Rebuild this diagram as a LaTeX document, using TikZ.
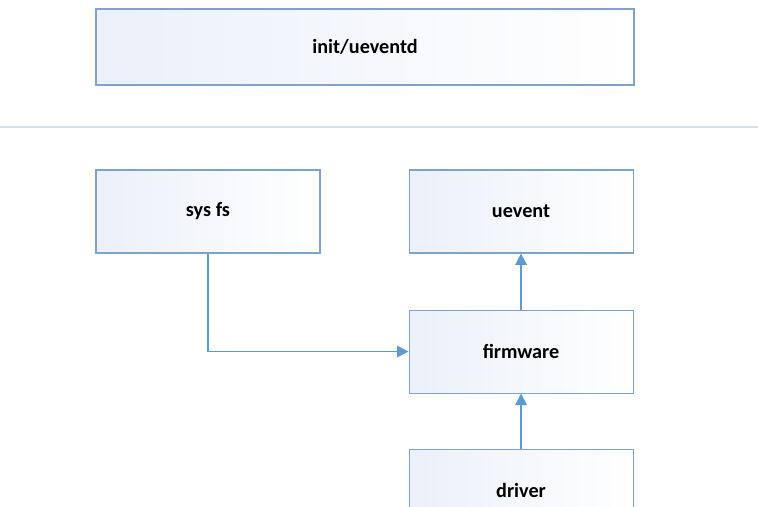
\documentclass[tikz,border=0pt]{standalone}
\usepackage{fontspec}
\setmainfont{Carlito}
\usepackage{tikz}
\usetikzlibrary{arrows.meta, positioning}
\definecolor{boxline}{HTML}{7FA2CC}
\definecolor{boxfill}{HTML}{EBF0F9}
\definecolor{arrline}{HTML}{5B9BD5}
\definecolor{sepline}{HTML}{D6E2EC}

\begin{document}
\begin{tikzpicture}[
  layer/.style={draw=boxline, line width=0.6pt, left color=boxfill, right color=white, minimum width=4.48cm, minimum height=1.66cm, align=center, font=\fontsize{11.5}{14}\selectfont\bfseries},
  arr/.style={-{Triangle[length=6.5pt, width=6.5pt]}, draw=arrline, line width=1pt}
]
\clip (0,0) rectangle (15.16,-10.14);
\useasboundingbox (0,0) rectangle (15.16,-10.14);
\node[layer, minimum width=10.76cm, minimum height=1.52cm] (init) at (7.30,-0.94) {init/ueventd};
\draw[sepline, line width=1.2pt] (0,-2.54) -- (15.16,-2.54);
\node[layer] (sysfs) at (4.16,-4.23) {sys fs};
\node[layer, right=1.76cm of sysfs] (uevent) {uevent};
\node[layer, below=1.12cm of uevent] (firmware) {firmware};
\node[layer, below=1.1cm of firmware] (driver) {driver};
\draw[arr] (sysfs.south) |- (firmware.west);
\draw[arr] (firmware.north) -- (uevent.south);
\draw[arr] (driver.north) -- (firmware.south);
\end{tikzpicture}
\end{document}
